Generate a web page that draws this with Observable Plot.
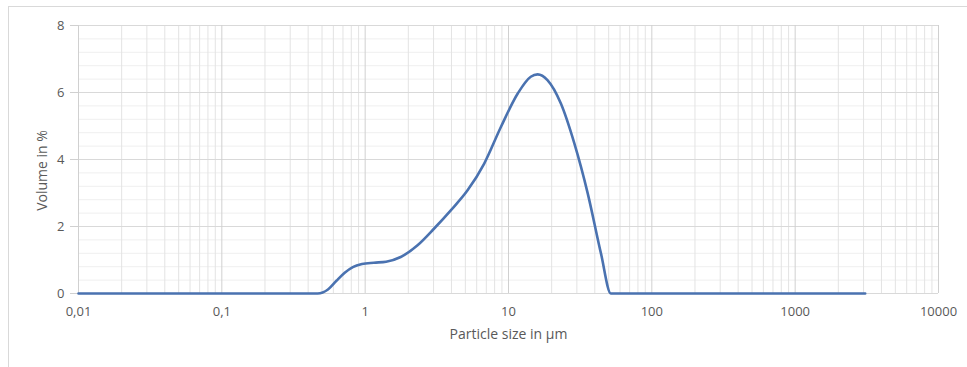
<!DOCTYPE html>
<html>
<head>
<meta charset="utf-8">
<script src="https://cdn.jsdelivr.net/npm/d3@7"></script>
<script src="https://cdn.jsdelivr.net/npm/@observablehq/plot@0.6"></script>
<style>
  html, body { margin: 0; padding: 0; background: #fff; }
  #wrap { position: relative; width: 967px; height: 367px; overflow: hidden; }
  #frame { position: absolute; left: 8px; top: 6px; width: 980px; height: 380px; border-left: 1px solid #d9d9d9; border-top: 1px solid #d9d9d9; box-sizing: border-box; pointer-events: none; }
  svg { position: absolute; left: 0; top: 0; }
</style>
</head>
<body>
<div id="wrap"><div id="frame"></div></div>
<script>
// Particle size (µm) and volume (%)
const sizes  = [0.01, 0.4, 0.466, 0.55, 0.63, 0.72, 0.82, 0.95, 1.15, 1.4, 1.77, 2.32, 3.03, 3.97, 5.18, 6.77, 8.85, 11.6, 14.3, 15.96, 18.7, 23.2, 28.8, 35.7, 44.2, 51.8, 100, 1000, 3080];
const volume = [0,    0,   0,     0.12, 0.38, 0.62, 0.79, 0.88, 0.92, 0.95, 1.09, 1.44, 1.94, 2.49, 3.08, 3.88, 4.97, 5.97, 6.47, 6.54,  6.37, 5.67, 4.48, 2.99, 1.19, 0,    0,   0,    0];

const xTicks = [0.01, 0.1, 1, 10, 100, 1000, 10000];
const xTickLabels = ["0,01", "0,1", "1", "10", "100", "1000", "10000"];
const yTicks = [0, 2, 4, 6, 8];
const xTitle = "Particle size in µm";
const yTitle = "Volume in %";

const data = sizes.map((s, i) => ({size: s, vol: volume[i]}));

// grid positions
const minorX = [];
for (let e = -2; e < 4; e++) for (let m = 2; m <= 9; m++) minorX.push(m * Math.pow(10, e));
const minorY = d3.range(0, 8.0001, 0.4).filter(v => Math.abs(v / 2 - Math.round(v / 2)) > 1e-6);

const chart = Plot.plot({
  width: 967,
  height: 367,
  marginLeft: 78,
  marginRight: 29,
  marginTop: 25,
  marginBottom: 74,
  style: {fontFamily: "'Open Sans', sans-serif", fontSize: "13px", color: "#595959", background: "transparent"},
  x: {type: "log", domain: [0.01, 10000]},
  y: {domain: [0, 8]},
  marks: [
    Plot.ruleY(minorY, {stroke: "#efefef", strokeWidth: 1}),
    Plot.ruleX(minorX, {stroke: "#e3e3e3", strokeWidth: 1}),
    Plot.ruleY(yTicks, {stroke: "#d9d9d9", strokeWidth: 1}),
    Plot.ruleX(xTicks, {stroke: "#d0d0d0", strokeWidth: 1}),
    Plot.axisX({ticks: xTicks, tickFormat: (d) => xTickLabels[xTicks.indexOf(d)], tickSize: 0, tickPadding: 13, label: null, fill: "#595959"}),
    Plot.axisY({ticks: yTicks, tickSize: 8, tickPadding: 6, label: null, stroke: "#d0d0d0", fill: "#595959"}),
    Plot.text([yTitle], {frameAnchor: "left", textAnchor: "middle", dx: -36, dy: 11, rotate: -90, fill: "#595959", fontSize: 14}),
    Plot.text([xTitle], {frameAnchor: "bottom", dy: 45, fill: "#595959", fontSize: 14}),
    Plot.line(data, {x: "size", y: "vol", stroke: "#4a72b0", strokeWidth: 2.6, curve: "monotone-x"})
  ]
});
document.getElementById("wrap").appendChild(chart);
</script>
</body>
</html>
